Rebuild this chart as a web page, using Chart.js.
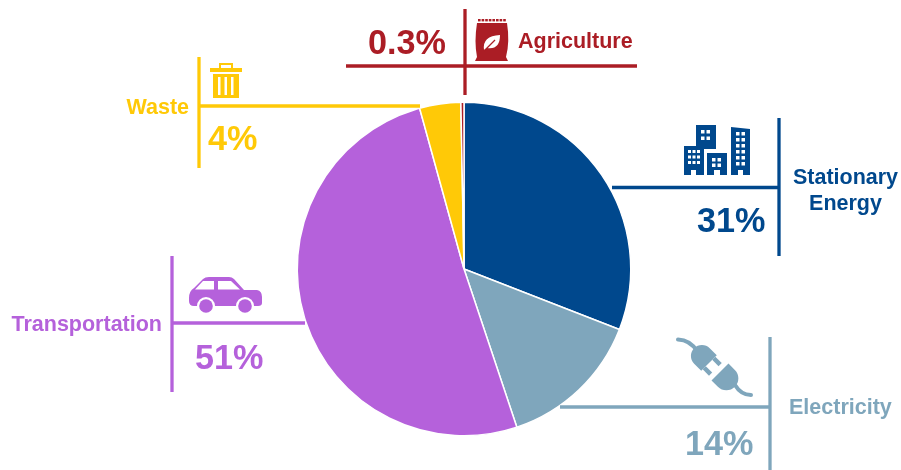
<!DOCTYPE html>
<html><head><meta charset="utf-8">
<script src="https://cdn.jsdelivr.net/npm/chart.js@4"></script>
<style>html,body{margin:0;padding:0;background:#fff}#w{width:901px;height:470px;position:relative}</style>
</head><body><div id="w"><canvas id="c" width="901" height="470"></canvas></div>
<script>
const categories = ['Stationary Energy','Electricity','Transportation','Waste','Agriculture'];
const values = [31,14,51,4,0.3];
const valueLabels = ['31%','14%','51%','4%','0.3%'];
const colors = ['#00488D','#7FA6BC','#B561DB','#FFC907','#AB1D25'];
const FONT = '"Liberation Sans", Arial, sans-serif';
const TAU = Math.PI*2;

function line(ctx,x1,y1,x2,y2,col,w){ctx.strokeStyle=col;ctx.lineWidth=w||3.3;ctx.beginPath();ctx.moveTo(x1,y1);ctx.lineTo(x2,y2);ctx.stroke();}
function text(ctx,s,x,y,col,size,align){ctx.fillStyle=col;ctx.font='bold '+size+'px '+FONT;ctx.textAlign=align||'left';ctx.textBaseline='alphabetic';ctx.fillText(s,x,y);}
function rect(ctx,x,y,w,h,col){ctx.fillStyle=col;ctx.fillRect(x,y,w,h);}
function windows(ctx,x0,y0,cols,rows,dx,dy,s){for(let r=0;r<rows;r++)for(let c=0;c<cols;c++)rect(ctx,x0+c*dx,y0+r*dy,s,s,'#fff');}

function iconBag(ctx,col){
  ctx.fillStyle=col;
  for(let i=0;i<8;i++)ctx.fillRect(478+i*3.6,19,2.6,2.4);
  ctx.beginPath();ctx.moveTo(477,23);ctx.lineTo(507,23);ctx.quadraticCurveTo(510,42,506,57);ctx.lineTo(508,61);ctx.lineTo(475,61);ctx.lineTo(477,57);ctx.quadraticCurveTo(474,42,477,23);ctx.closePath();ctx.fill();
  ctx.fillStyle='#fff';ctx.beginPath();ctx.moveTo(484,50);ctx.quadraticCurveTo(482,36,500,35);ctx.quadraticCurveTo(500,50,487,48);ctx.closePath();ctx.fill();
  ctx.strokeStyle=col;ctx.lineWidth=1.2;ctx.beginPath();ctx.moveTo(484,51);ctx.lineTo(495,40);ctx.stroke();
}
function iconTrash(ctx,col){
  ctx.fillStyle=col;rect(ctx,210,68,32,4,col);
  ctx.strokeStyle=col;ctx.lineWidth=2;ctx.strokeRect(220,64,12,5);
  ctx.fillRect(213,74,26,24);
  [218,224.5,231].forEach(x=>rect(ctx,x,77,2.5,18,'#fff'));
}
function iconBuildings(ctx,col){
  rect(ctx,696,125,20,24,col);
  windows(ctx,701,130,2,2,5.5,6.5,3.5);
  rect(ctx,684,146,20,29,col);windows(ctx,688,150,3,3,4.5,5.5,3);
  rect(ctx,707,153,20,22,col);windows(ctx,712,158,2,2,5.5,5.5,3.5);
  ctx.fillStyle=col;ctx.beginPath();ctx.moveTo(731,127);ctx.lineTo(750,129);ctx.lineTo(750,175);ctx.lineTo(731,175);ctx.fill();
  windows(ctx,736,132,2,6,5.5,6,3.5);
  rect(ctx,691,170,5,5,'#fff');rect(ctx,714,170,6,5,'#fff');rect(ctx,738,170,5,5,'#fff');
}
function iconPlug(ctx,col){
  ctx.strokeStyle=col;ctx.lineCap='round';ctx.lineWidth=4;
  ctx.beginPath();ctx.moveTo(678,339.5);ctx.quadraticCurveTo(690,340,697,351);ctx.stroke();
  ctx.beginPath();ctx.moveTo(735,385);ctx.quadraticCurveTo(741,395,751,395);ctx.stroke();
  ctx.lineCap='butt';
  ctx.fillStyle=col;
  ctx.save();ctx.translate(709,363);ctx.rotate(-Math.PI/4);
  ctx.beginPath();ctx.arc(0,-10,11,Math.PI,0);ctx.lineTo(11,0);ctx.lineTo(-11,0);ctx.closePath();ctx.fill();
  ctx.fillRect(4.5,0,4.5,9);ctx.fillRect(-9,0,4.5,9);
  ctx.restore();
  ctx.save();ctx.translate(720,372);ctx.rotate(-Math.PI/4);
  ctx.beginPath();ctx.moveTo(-12,0);ctx.lineTo(12,0);ctx.lineTo(12,9);ctx.arc(0,9,12,0,Math.PI,false);ctx.closePath();ctx.fill();
  ctx.restore();
}
function iconCar(ctx,col){
  ctx.fillStyle=col;ctx.beginPath();
  ctx.moveTo(189,298);ctx.quadraticCurveTo(189,291,194,288);ctx.lineTo(203,279);ctx.quadraticCurveTo(205,277,209,277);
  ctx.lineTo(229,277);ctx.quadraticCurveTo(232,277,234,279);ctx.lineTo(244,290);ctx.lineTo(257,290);ctx.quadraticCurveTo(262,291,262,297);
  ctx.lineTo(262,303);ctx.quadraticCurveTo(262,306,258,306);ctx.lineTo(194,306);ctx.quadraticCurveTo(189,306,189,301);ctx.closePath();ctx.fill();
  ctx.fillStyle='#fff';
  ctx.beginPath();ctx.moveTo(195,289.5);ctx.lineTo(203,281);ctx.lineTo(214,281);ctx.lineTo(214,289.5);ctx.closePath();ctx.fill();
  ctx.beginPath();ctx.moveTo(218,281);ctx.lineTo(231,281);ctx.lineTo(240,289.5);ctx.lineTo(218,289.5);ctx.closePath();ctx.fill();
  [206,245].forEach(x=>{
    ctx.fillStyle='#fff';ctx.beginPath();ctx.arc(x,306,9,0,TAU);ctx.fill();
    ctx.fillStyle=col;ctx.beginPath();ctx.arc(x,306,6.8,0,TAU);ctx.fill();
  });
}

const callouts = {
  id:'callouts',
  afterDatasetsDraw(chart){
    const ctx=chart.ctx;ctx.save();
    let c=colors[4];
    line(ctx,346,66,637,66,c);line(ctx,465,9,465,95,c);
    text(ctx,valueLabels[4],368,54,c,34.2);text(ctx,categories[4],518,48,c,21.5);iconBag(ctx,c);
    c=colors[3];
    line(ctx,199,57,199,168,c);line(ctx,199,106,420,106,c);
    text(ctx,categories[3],189,114,c,21.5,'right');text(ctx,valueLabels[3],208,150,c,34.2);iconTrash(ctx,c);
    c=colors[0];
    line(ctx,779,118,779,256,c);line(ctx,612,187.5,779,187.5,c);
    text(ctx,'Stationary',845.5,184,c,21.5,'center');text(ctx,'Energy',845.5,210,c,21.5,'center');
    text(ctx,valueLabels[0],697,232,c,34.2);iconBuildings(ctx,c);
    c=colors[1];
    line(ctx,770,337,770,470,c);line(ctx,560,407,770,407,c);
    text(ctx,categories[1],789,414,c,21.5);text(ctx,valueLabels[1],685,455,c,34.2);iconPlug(ctx,c);
    c=colors[2];
    line(ctx,172,256,172,392,c);line(ctx,172,323,305,323,c);
    text(ctx,categories[2],162,331,c,21.5,'right');text(ctx,valueLabels[2],195,369,c,34.2);iconCar(ctx,c);
    ctx.restore();
  }
};

new Chart(document.getElementById('c'),{
  type:'pie',
  data:{labels:categories,datasets:[{data:values,backgroundColor:colors,borderColor:'#fff',borderWidth:1.5}]},
  options:{
    responsive:false,animation:false,
    layout:{padding:{top:101.5,bottom:33.5,left:296.5,right:269.5}},
    plugins:{legend:{display:false},tooltip:{enabled:false}}
  },
  plugins:[callouts]
});
</script></body></html>
